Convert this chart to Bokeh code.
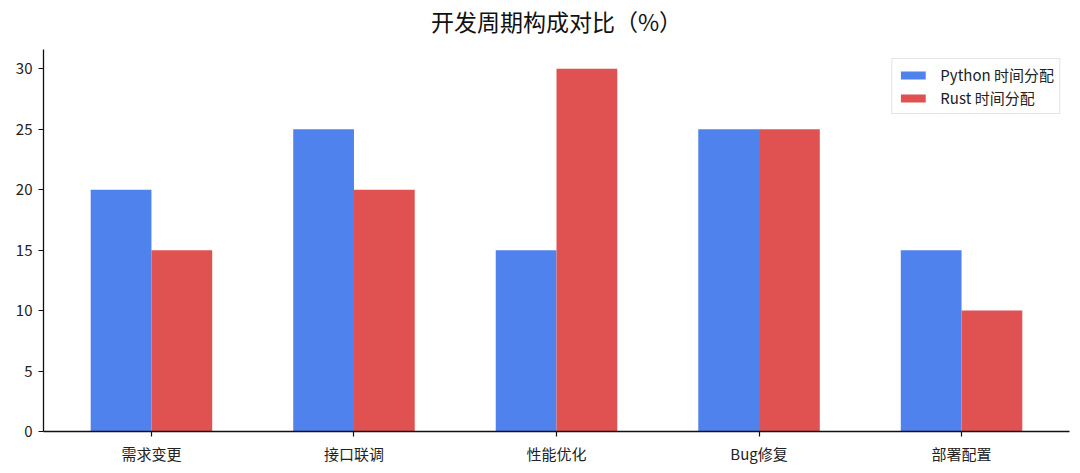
from bokeh.plotting import figure
from bokeh.models import Range1d, FixedTicker, ColumnDataSource, Legend, LegendItem, Title
from bokeh.embed import file_html
from bokeh.resources import INLINE

categories = ["需求变更", "接口联调", "性能优化", "Bug修复", "部署配置"]
python_vals = [20, 25, 15, 25, 15]
rust_vals = [15, 20, 30, 25, 10]
series_names = ["Python 时间分配", "Rust 时间分配"]
y_ticks = [0, 5, 10, 15, 20, 25, 30]
title_text = "开发周期构成对比（%）"

FONT = "Noto Sans CJK SC"
BLUE = "#4F82EC"
RED = "#E05252"
W = 0.3
Y_MAX = 31.6

idx = list(range(len(categories)))
src = ColumnDataSource(dict(
    xp=[i - W / 2 for i in idx],
    xr=[i + W / 2 for i in idx],
    py=python_vals,
    ry=rust_vals,
))

x0, x1 = -0.533, len(categories) - 1 + 0.533
p = figure(width=1080, height=473, output_backend="svg", toolbar_location=None,
           x_range=Range1d(x0, x1),
           y_range=Range1d(0, Y_MAX),
           min_border_left=43, min_border_right=11, min_border_top=49, min_border_bottom=42)

r1 = p.vbar(x="xp", top="py", width=W, source=src, fill_color=BLUE, line_color=None)
r2 = p.vbar(x="xr", top="ry", width=W, source=src, fill_color=RED, line_color=None)

# invisible spacer between the title and the plot frame
spacer = Title(text="\u200b", text_font_size="1px", text_color="white", standoff=5)
p.add_layout(spacer, "above")

p.title.text = title_text
p.title.align = "center"
p.title.vertical_align = "top"
p.title.text_font = FONT
p.title.text_font_size = "23px"
p.title.text_font_style = "normal"
p.title.text_color = "#111111"
p.title.standoff = 3

p.outline_line_color = None
p.xgrid.grid_line_color = None
p.ygrid.grid_line_color = None

for ax in (p.xaxis[0], p.yaxis[0]):
    ax.axis_line_color = "#111111"
    ax.axis_line_width = 1.3
    ax.major_tick_line_color = "#111111"
    ax.major_tick_line_width = 1.2
    ax.major_tick_out = 5
    ax.major_tick_in = 0
    ax.minor_tick_line_color = None
    ax.major_label_text_font = FONT
    ax.major_label_text_font_size = "15px"
    ax.major_label_text_color = "#222222"

p.yaxis[0].ticker = FixedTicker(ticks=y_ticks)
p.yaxis[0].major_label_standoff = 6
p.xaxis[0].ticker = FixedTicker(ticks=idx)
p.xaxis[0].major_label_overrides = {i: c for i, c in zip(idx, categories)}
p.xaxis[0].major_label_standoff = 6

legend = Legend(items=[LegendItem(label=series_names[0], renderers=[r1]),
                       LegendItem(label=series_names[1], renderers=[r2])],
                location="top_right")
legend.margin = 9
legend.padding = 5
legend.spacing = 2
legend.label_height = 19
legend.glyph_height = 10
legend.glyph_width = 31
legend.label_standoff = 12
legend.label_text_font = FONT
legend.label_text_font_size = "15px"
legend.label_text_color = "#222222"
legend.border_line_color = "#cccccc"
legend.border_line_width = 1
legend.background_fill_alpha = 0.9
p.add_layout(legend)

open("out.html", "w").write(file_html(p, INLINE))
